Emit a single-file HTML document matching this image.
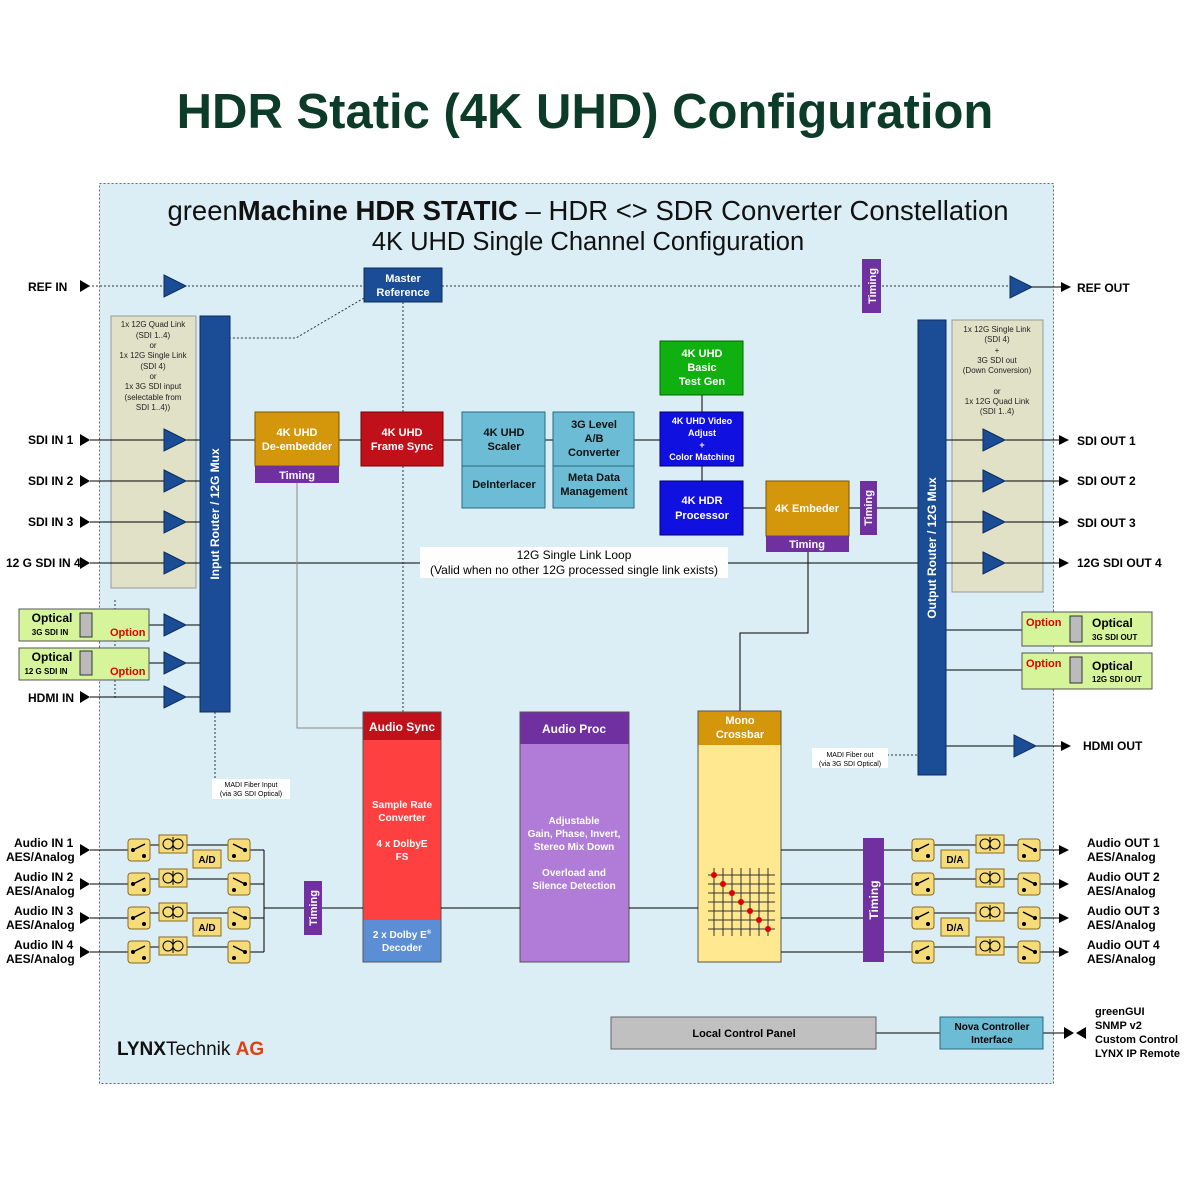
<!DOCTYPE html>
<html><head><meta charset="utf-8"><style>
body{margin:0;background:#fff}
svg{display:block}
text{font-family:"Liberation Sans",Arial,sans-serif}
.b{font-weight:bold}
</style></head><body>
<svg width="1200" height="1200" viewBox="0 0 1200 1200" xmlns="http://www.w3.org/2000/svg">
<defs>
<marker id="ah" markerWidth="10" markerHeight="10" refX="9" refY="5" orient="auto" markerUnits="userSpaceOnUse"><path d="M0,0 L10,5 L0,10z" fill="#000"/></marker>
<g id="tri"><path d="M0,-11 L22,0 L0,11z" fill="#1a4d96" stroke="#0d2c5a" stroke-width="1"/></g>
<g id="sw"><rect x="0" y="-11" width="22" height="22" rx="3" fill="#f5dc78" stroke="#8a6a20"/><circle cx="5" cy="0" r="2" fill="#000"/><circle cx="16" cy="6" r="2" fill="#000"/><line x1="5" y1="0" x2="17" y2="-6" stroke="#000" stroke-width="1.5"/></g>
<g id="swr"><rect x="0" y="-11" width="22" height="22" rx="3" fill="#f5dc78" stroke="#8a6a20"/><circle cx="17" cy="0" r="2" fill="#000"/><circle cx="6" cy="6" r="2" fill="#000"/><line x1="17" y1="0" x2="5" y2="-6" stroke="#000" stroke-width="1.5"/></g>
<g id="tf"><rect x="0" y="-9" width="28" height="18" fill="#f5dc78" stroke="#8a6a20"/><circle cx="9" cy="0" r="5" fill="none" stroke="#000"/><circle cx="19" cy="0" r="5" fill="none" stroke="#000"/><line x1="14" y1="-7" x2="14" y2="7" stroke="#000"/></g>
</defs>

<text x="585" y="128" text-anchor="middle" class="b" font-size="49" fill="#0c3b2a">HDR Static (4K UHD) Configuration</text>

<rect x="99.5" y="183.5" width="954" height="900" fill="#dbeef5" stroke="#666" stroke-dasharray="2,2"/>
<text x="588" y="220" text-anchor="middle" font-size="27.5" fill="#111">green<tspan class="b">Machine HDR STATIC</tspan> – HDR &lt;&gt; SDR Converter Constellation</text>
<text x="588" y="250" text-anchor="middle" font-size="25.5" fill="#111">4K UHD Single Channel Configuration</text>

<!-- REF -->
<g stroke="#333" stroke-dasharray="2,2" fill="none">
<line x1="88" y1="286" x2="364" y2="286"/><line x1="442" y1="286" x2="1010" y2="286"/>
<line x1="403" y1="302" x2="403" y2="712"/>
<polyline points="364,298 296,338 230,338"/>
<line x1="215" y1="712" x2="215" y2="780"/>
<line x1="887" y1="755" x2="918" y2="755"/>
<line x1="115" y1="600" x2="115" y2="700"/>
</g>
<text x="28" y="291" class="b" font-size="12">REF IN</text>
<path d="M80,280 L90,286 L80,292z"/>
<use href="#tri" x="164" y="286"/>
<rect x="364" y="268" width="78" height="34" fill="#1a4d96" stroke="#0d2c5a"/>
<text x="403" y="282" text-anchor="middle" class="b" font-size="11" fill="#fff">Master</text>
<text x="403" y="296" text-anchor="middle" class="b" font-size="11" fill="#fff">Reference</text>
<rect x="862" y="259" width="19" height="54" fill="#7030a0"/>
<text transform="translate(876,286) rotate(-90)" text-anchor="middle" class="b" font-size="11" fill="#fff">Timing</text>
<use href="#tri" x="1010" y="287"/>
<line x1="1032" y1="287" x2="1070" y2="287" stroke="#000" marker-end="url(#ah)"/>
<text x="1077" y="292" class="b" font-size="12">REF OUT</text>

<!-- beige boxes -->
<rect x="111" y="316" width="85" height="272" fill="#e1e1c8" stroke="#999"/>
<g font-size="8" text-anchor="middle" fill="#222">
<text x="153" y="327">1x 12G Quad Link</text><text x="153" y="338">(SDI 1..4)</text><text x="153" y="348">or</text><text x="153" y="358">1x 12G Single Link</text><text x="153" y="369">(SDI 4)</text><text x="153" y="379">or</text><text x="153" y="389">1x 3G SDI input</text><text x="153" y="400">(selectable from</text><text x="153" y="410">SDI 1..4))</text>
</g>
<rect x="952" y="320" width="91" height="272" fill="#e1e1c8" stroke="#999"/>
<g font-size="8" text-anchor="middle" fill="#222">
<text x="997" y="332">1x 12G Single Link</text><text x="997" y="342">(SDI 4)</text><text x="997" y="353">+</text><text x="997" y="363">3G SDI out</text><text x="997" y="373">(Down Conversion)</text><text x="997" y="394">or</text><text x="997" y="404">1x 12G Quad Link</text><text x="997" y="414">(SDI 1..4)</text>
</g>

<!-- input rows -->
<g stroke="#000" fill="none">
<line x1="90" y1="440" x2="200" y2="440"/><line x1="90" y1="481" x2="200" y2="481"/><line x1="90" y1="522" x2="200" y2="522"/><line x1="90" y1="563" x2="200" y2="563"/>
<line x1="92" y1="625" x2="200" y2="625"/><line x1="92" y1="663" x2="200" y2="663"/><line x1="90" y1="697" x2="200" y2="697"/>
<line x1="230" y1="440" x2="255" y2="440"/><line x1="339" y1="440" x2="361" y2="440"/><line x1="443" y1="440" x2="462" y2="440"/><line x1="545" y1="440" x2="553" y2="440"/><line x1="634" y1="440" x2="660" y2="440"/>
<line x1="702" y1="395" x2="702" y2="412"/><line x1="702" y1="466" x2="702" y2="481"/>
<line x1="743" y1="508" x2="766" y2="508"/><line x1="849" y1="508" x2="860" y2="508"/><line x1="877" y1="508" x2="918" y2="508"/>
<line x1="230" y1="563" x2="420" y2="563"/><line x1="728" y1="563" x2="918" y2="563"/>
<polyline points="808,552 808,633 740,633 740,711"/>
<polyline points="297,483 297,728 363,728" stroke="#888"/>
<line x1="946" y1="440" x2="1068" y2="440" marker-end="url(#ah)"/>
<line x1="946" y1="481" x2="1068" y2="481" marker-end="url(#ah)"/>
<line x1="946" y1="522" x2="1068" y2="522" marker-end="url(#ah)"/>
<line x1="946" y1="563" x2="1068" y2="563" marker-end="url(#ah)"/>
<line x1="946" y1="630" x2="1070" y2="630"/><line x1="946" y1="670" x2="1070" y2="670"/>
<line x1="946" y1="746" x2="1070" y2="746" marker-end="url(#ah)"/>
<line x1="876" y1="1033" x2="940" y2="1033"/><line x1="1043" y1="1033" x2="1068" y2="1033"/>
</g>
<g class="b" font-size="12">
<text x="28" y="444">SDI IN 1</text><text x="28" y="485">SDI IN 2</text><text x="28" y="526">SDI IN 3</text><text x="6" y="567">12 G SDI IN 4</text><text x="28" y="702">HDMI IN</text>
<text x="1077" y="445">SDI OUT 1</text><text x="1077" y="485">SDI OUT 2</text><text x="1077" y="527">SDI OUT 3</text><text x="1077" y="567">12G SDI OUT 4</text><text x="1083" y="750">HDMI OUT</text>
</g>
<path d="M80,434 L90,440 L80,446zM80,475 L90,481 L80,487zM80,516 L90,522 L80,528zM80,557 L90,563 L80,569zM80,691 L90,697 L80,703z"/>
<use href="#tri" x="164" y="440"/><use href="#tri" x="164" y="481"/><use href="#tri" x="164" y="522"/><use href="#tri" x="164" y="563"/>
<use href="#tri" x="164" y="625"/><use href="#tri" x="164" y="663"/><use href="#tri" x="164" y="697"/>
<use href="#tri" x="983" y="440"/><use href="#tri" x="983" y="481"/><use href="#tri" x="983" y="522"/><use href="#tri" x="983" y="563"/>
<use href="#tri" x="1014" y="746"/>

<!-- optical in -->
<rect x="19" y="609" width="130" height="32" fill="#d6f59a" stroke="#555"/>
<rect x="80" y="613" width="12" height="24" fill="#bbb" stroke="#333"/>
<text x="52" y="622" text-anchor="middle" class="b" font-size="12">Optical</text>
<text x="50" y="635" text-anchor="middle" class="b" font-size="8">3G SDI IN</text>
<text x="110" y="636" class="b" font-size="11" fill="#e00000">Option</text>
<rect x="19" y="648" width="130" height="32" fill="#d6f59a" stroke="#555"/>
<rect x="80" y="651" width="12" height="24" fill="#bbb" stroke="#333"/>
<text x="52" y="661" text-anchor="middle" class="b" font-size="12">Optical</text>
<text x="46" y="674" text-anchor="middle" class="b" font-size="8">12 G SDI IN</text>
<text x="110" y="675" class="b" font-size="11" fill="#e00000">Option</text>
<!-- optical out -->
<rect x="1022" y="612" width="130" height="34" fill="#d6f59a" stroke="#555"/>
<rect x="1070" y="616" width="12" height="26" fill="#bbb" stroke="#333"/>
<text x="1026" y="626" class="b" font-size="11" fill="#e00000">Option</text>
<text x="1092" y="627" class="b" font-size="12">Optical</text>
<text x="1092" y="640" class="b" font-size="8">3G SDI OUT</text>
<rect x="1022" y="653" width="130" height="36" fill="#d6f59a" stroke="#555"/>
<rect x="1070" y="657" width="12" height="26" fill="#bbb" stroke="#333"/>
<text x="1026" y="667" class="b" font-size="11" fill="#e00000">Option</text>
<text x="1092" y="670" class="b" font-size="12">Optical</text>
<text x="1092" y="682" class="b" font-size="8">12G SDI OUT</text>

<!-- routers -->
<rect x="200" y="316" width="30" height="396" fill="#1a4d96" stroke="#0d2c5a"/>
<text transform="translate(219,514) rotate(-90)" text-anchor="middle" class="b" font-size="12" fill="#fff">Input Router / 12G Mux</text>
<rect x="918" y="320" width="28" height="455" fill="#1a4d96" stroke="#0d2c5a"/>
<text transform="translate(936,548) rotate(-90)" text-anchor="middle" class="b" font-size="12" fill="#fff">Output Router / 12G Mux</text>

<!-- processing blocks -->
<rect x="255" y="412" width="84" height="54" fill="#d4960a" stroke="#7a5500"/>
<text x="297" y="436" text-anchor="middle" class="b" font-size="11" fill="#fff">4K UHD</text>
<text x="297" y="450" text-anchor="middle" class="b" font-size="11" fill="#fff">De-embedder</text>
<rect x="255" y="466" width="84" height="17" fill="#7030a0"/>
<text x="297" y="479" text-anchor="middle" class="b" font-size="11" fill="#fff">Timing</text>
<rect x="361" y="412" width="82" height="54" fill="#c0101a" stroke="#700"/>
<text x="402" y="436" text-anchor="middle" class="b" font-size="11" fill="#fff">4K UHD</text>
<text x="402" y="450" text-anchor="middle" class="b" font-size="11" fill="#fff">Frame Sync</text>
<rect x="462" y="412" width="83" height="96" fill="#6bbcd4" stroke="#2a6a80"/>
<line x1="462" y1="466" x2="545" y2="466" stroke="#2a6a80"/>
<text x="504" y="436" text-anchor="middle" class="b" font-size="11" fill="#111">4K UHD</text>
<text x="504" y="450" text-anchor="middle" class="b" font-size="11" fill="#111">Scaler</text>
<text x="504" y="488" text-anchor="middle" class="b" font-size="11" fill="#111">DeInterlacer</text>
<rect x="553" y="412" width="81" height="96" fill="#6bbcd4" stroke="#2a6a80"/>
<line x1="553" y1="466" x2="634" y2="466" stroke="#2a6a80"/>
<text x="594" y="428" text-anchor="middle" class="b" font-size="11" fill="#111">3G Level</text>
<text x="594" y="442" text-anchor="middle" class="b" font-size="11" fill="#111">A/B</text>
<text x="594" y="456" text-anchor="middle" class="b" font-size="11" fill="#111">Converter</text>
<text x="594" y="481" text-anchor="middle" class="b" font-size="11" fill="#111">Meta Data</text>
<text x="594" y="495" text-anchor="middle" class="b" font-size="11" fill="#111">Management</text>
<rect x="660" y="341" width="83" height="54" fill="#10b010" stroke="#060"/>
<text x="702" y="357" text-anchor="middle" class="b" font-size="11" fill="#fff">4K UHD</text>
<text x="702" y="371" text-anchor="middle" class="b" font-size="11" fill="#fff">Basic</text>
<text x="702" y="385" text-anchor="middle" class="b" font-size="11" fill="#fff">Test Gen</text>
<rect x="660" y="412" width="83" height="54" fill="#1010e0" stroke="#006"/>
<text x="702" y="424" text-anchor="middle" class="b" font-size="9" fill="#fff">4K UHD Video</text>
<text x="702" y="436" text-anchor="middle" class="b" font-size="9" fill="#fff">Adjust</text>
<text x="702" y="448" text-anchor="middle" class="b" font-size="9" fill="#fff">+</text>
<text x="702" y="460" text-anchor="middle" class="b" font-size="9" fill="#fff">Color Matching</text>
<rect x="660" y="481" width="83" height="54" fill="#1010e0" stroke="#006"/>
<text x="702" y="504" text-anchor="middle" class="b" font-size="11" fill="#fff">4K HDR</text>
<text x="702" y="519" text-anchor="middle" class="b" font-size="11" fill="#fff">Processor</text>
<rect x="766" y="481" width="83" height="55" fill="#d4960a" stroke="#7a5500"/>
<text x="807" y="512" text-anchor="middle" class="b" font-size="11" fill="#fff">4K Embeder</text>
<rect x="766" y="536" width="83" height="16" fill="#7030a0"/>
<text x="807" y="548" text-anchor="middle" class="b" font-size="11" fill="#fff">Timing</text>
<rect x="860" y="481" width="17" height="54" fill="#7030a0"/>
<text transform="translate(872,508) rotate(-90)" text-anchor="middle" class="b" font-size="11" fill="#fff">Timing</text>

<rect x="420" y="547" width="308" height="31" fill="#fff"/>
<text x="574" y="559" text-anchor="middle" font-size="12">12G Single Link Loop</text>
<text x="574" y="574" text-anchor="middle" font-size="12">(Valid when no other 12G processed single link exists)</text>

<!-- MADI labels -->
<rect x="212" y="779" width="78" height="20" fill="#fff"/>
<text x="251" y="787" text-anchor="middle" font-size="7">MADI Fiber Input</text>
<text x="251" y="796" text-anchor="middle" font-size="7">(via 3G SDI Optical)</text>
<rect x="812" y="748" width="76" height="20" fill="#fff"/>
<text x="850" y="757" text-anchor="middle" font-size="7">MADI Fiber out</text>
<text x="850" y="766" text-anchor="middle" font-size="7">(via 3G SDI Optical)</text>

<!-- audio blocks -->
<rect x="363" y="712" width="78" height="28" fill="#c0101a"/>
<text x="402" y="731" text-anchor="middle" class="b" font-size="12" fill="#fff">Audio Sync</text>
<rect x="363" y="740" width="78" height="180" fill="#ff4040"/>
<text x="402" y="808" text-anchor="middle" class="b" font-size="10" fill="#fff">Sample Rate</text>
<text x="402" y="821" text-anchor="middle" class="b" font-size="10" fill="#fff">Converter</text>
<text x="402" y="847" text-anchor="middle" class="b" font-size="10" fill="#fff">4 x DolbyE</text>
<text x="402" y="860" text-anchor="middle" class="b" font-size="10" fill="#fff">FS</text>
<rect x="363" y="920" width="78" height="42" fill="#5b8ed4"/>
<text x="402" y="938" text-anchor="middle" class="b" font-size="10" fill="#fff">2 x Dolby E<tspan font-size="6" dy="-4">®</tspan></text>
<text x="402" y="951" text-anchor="middle" class="b" font-size="10" fill="#fff">Decoder</text>
<rect x="363" y="712" width="78" height="250" fill="none" stroke="#555"/>

<rect x="520" y="712" width="109" height="32" fill="#7030a0"/>
<text x="574" y="733" text-anchor="middle" class="b" font-size="12" fill="#fff">Audio Proc</text>
<rect x="520" y="744" width="109" height="218" fill="#b07cd8"/>
<rect x="520" y="712" width="109" height="250" fill="none" stroke="#555"/>
<g text-anchor="middle" class="b" font-size="10" fill="#fff">
<text x="574" y="824">Adjustable</text><text x="574" y="837">Gain, Phase, Invert,</text><text x="574" y="850">Stereo Mix Down</text><text x="574" y="876">Overload and</text><text x="574" y="889">Silence Detection</text></g>

<rect x="698" y="711" width="83" height="34" fill="#d4960a"/>
<text x="740" y="724" text-anchor="middle" class="b" font-size="11" fill="#fff">Mono</text>
<text x="740" y="738" text-anchor="middle" class="b" font-size="11" fill="#fff">Crossbar</text>
<rect x="698" y="745" width="83" height="217" fill="#ffe890"/>
<rect x="698" y="711" width="83" height="251" fill="none" stroke="#555"/>
<g stroke="#333">
<line x1="708" y1="875" x2="775" y2="875"/><line x1="708" y1="884" x2="775" y2="884"/><line x1="708" y1="893" x2="775" y2="893"/><line x1="708" y1="902" x2="775" y2="902"/><line x1="708" y1="911" x2="775" y2="911"/><line x1="708" y1="920" x2="775" y2="920"/><line x1="708" y1="929" x2="775" y2="929"/>
<line x1="714" y1="868" x2="714" y2="936"/><line x1="723" y1="868" x2="723" y2="936"/><line x1="732" y1="868" x2="732" y2="936"/><line x1="741" y1="868" x2="741" y2="936"/><line x1="750" y1="868" x2="750" y2="936"/><line x1="759" y1="868" x2="759" y2="936"/><line x1="768" y1="868" x2="768" y2="936"/>
</g>
<g fill="#d00"><circle cx="714" cy="875" r="3"/><circle cx="723" cy="884" r="3"/><circle cx="732" cy="893" r="3"/><circle cx="741" cy="902" r="3"/><circle cx="750" cy="911" r="3"/><circle cx="759" cy="920" r="3"/><circle cx="768" cy="929" r="3"/></g>

<!-- audio lines -->
<g stroke="#000" fill="none">
<line x1="322" y1="908" x2="363" y2="908"/><line x1="441" y1="908" x2="520" y2="908"/><line x1="629" y1="908" x2="698" y2="908"/>
<line x1="264" y1="908" x2="304" y2="908"/>
<line x1="781" y1="850" x2="863" y2="850"/><line x1="781" y1="884" x2="863" y2="884"/><line x1="781" y1="918" x2="863" y2="918"/><line x1="781" y1="952" x2="863" y2="952"/>
<line x1="264" y1="850" x2="264" y2="952"/>
<line x1="90" y1="850" x2="128" y2="850"/><line x1="90" y1="884" x2="128" y2="884"/><line x1="90" y1="918" x2="128" y2="918"/><line x1="90" y1="952" x2="128" y2="952"/>
<line x1="150" y1="845" x2="228" y2="845"/><line x1="150" y1="879" x2="228" y2="879"/><line x1="150" y1="913" x2="228" y2="913"/><line x1="150" y1="947" x2="228" y2="947"/>
<line x1="250" y1="850" x2="264" y2="850"/><line x1="250" y1="884" x2="264" y2="884"/><line x1="250" y1="918" x2="264" y2="918"/><line x1="250" y1="952" x2="264" y2="952"/>
<line x1="884" y1="850" x2="912" y2="850"/><line x1="884" y1="884" x2="912" y2="884"/><line x1="884" y1="918" x2="912" y2="918"/><line x1="884" y1="952" x2="912" y2="952"/>
<line x1="934" y1="845" x2="1018" y2="845"/><line x1="934" y1="879" x2="1018" y2="879"/><line x1="934" y1="913" x2="1018" y2="913"/><line x1="934" y1="947" x2="1018" y2="947"/>
<line x1="1040" y1="850" x2="1068" y2="850" marker-end="url(#ah)"/><line x1="1040" y1="884" x2="1068" y2="884" marker-end="url(#ah)"/><line x1="1040" y1="918" x2="1068" y2="918" marker-end="url(#ah)"/><line x1="1040" y1="952" x2="1068" y2="952" marker-end="url(#ah)"/>
</g>
<path d="M80,844 L90,850 L80,856zM80,878 L90,884 L80,890zM80,912 L90,918 L80,924zM80,946 L90,952 L80,958z"/>
<use href="#sw" x="128" y="850"/><use href="#sw" x="128" y="884"/><use href="#sw" x="128" y="918"/><use href="#sw" x="128" y="952"/>
<use href="#swr" x="228" y="850"/><use href="#swr" x="228" y="884"/><use href="#swr" x="228" y="918"/><use href="#swr" x="228" y="952"/>
<use href="#tf" x="159" y="844"/><use href="#tf" x="159" y="878"/><use href="#tf" x="159" y="912"/><use href="#tf" x="159" y="946"/>
<rect x="193" y="850" width="28" height="18" fill="#f5dc78" stroke="#8a6a20"/><text x="207" y="863" text-anchor="middle" class="b" font-size="10">A/D</text>
<rect x="193" y="918" width="28" height="18" fill="#f5dc78" stroke="#8a6a20"/><text x="207" y="931" text-anchor="middle" class="b" font-size="10">A/D</text>
<use href="#sw" x="912" y="850"/><use href="#sw" x="912" y="884"/><use href="#sw" x="912" y="918"/><use href="#sw" x="912" y="952"/>
<use href="#swr" x="1018" y="850"/><use href="#swr" x="1018" y="884"/><use href="#swr" x="1018" y="918"/><use href="#swr" x="1018" y="952"/>
<use href="#tf" x="976" y="844"/><use href="#tf" x="976" y="878"/><use href="#tf" x="976" y="912"/><use href="#tf" x="976" y="946"/>
<rect x="941" y="850" width="28" height="18" fill="#f5dc78" stroke="#8a6a20"/><text x="955" y="863" text-anchor="middle" class="b" font-size="10">D/A</text>
<rect x="941" y="918" width="28" height="18" fill="#f5dc78" stroke="#8a6a20"/><text x="955" y="931" text-anchor="middle" class="b" font-size="10">D/A</text>
<rect x="304" y="881" width="18" height="54" fill="#7030a0"/>
<text transform="translate(317,908) rotate(-90)" text-anchor="middle" class="b" font-size="11" fill="#fff">Timing</text>
<rect x="863" y="838" width="21" height="124" fill="#7030a0"/>
<text transform="translate(878,900) rotate(-90)" text-anchor="middle" class="b" font-size="12" fill="#fff">Timing</text>
<g class="b" font-size="12">
<text x="14" y="847">Audio IN 1</text><text x="6" y="861">AES/Analog</text>
<text x="14" y="881">Audio IN 2</text><text x="6" y="895">AES/Analog</text>
<text x="14" y="915">Audio IN 3</text><text x="6" y="929">AES/Analog</text>
<text x="14" y="949">Audio IN 4</text><text x="6" y="963">AES/Analog</text>
<text x="1087" y="847">Audio OUT 1</text><text x="1087" y="861">AES/Analog</text>
<text x="1087" y="881">Audio OUT 2</text><text x="1087" y="895">AES/Analog</text>
<text x="1087" y="915">Audio OUT 3</text><text x="1087" y="929">AES/Analog</text>
<text x="1087" y="949">Audio OUT 4</text><text x="1087" y="963">AES/Analog</text>
</g>

<!-- control -->
<rect x="611" y="1017" width="265" height="32" fill="#c0c0c0" stroke="#666"/>
<text x="744" y="1037" text-anchor="middle" class="b" font-size="11">Local Control Panel</text>
<rect x="940" y="1017" width="103" height="32" fill="#6bbcd4" stroke="#2a6a80"/>
<text x="992" y="1030" text-anchor="middle" class="b" font-size="10">Nova Controller</text>
<text x="992" y="1043" text-anchor="middle" class="b" font-size="10">Interface</text>
<path d="M1064,1027 L1074,1033 L1064,1039zM1086,1027 L1076,1033 L1086,1039z"/>
<g class="b" font-size="11"><text x="1095" y="1015">greenGUI</text><text x="1095" y="1029">SNMP v2</text><text x="1095" y="1043">Custom Control</text><text x="1095" y="1057">LYNX IP Remote</text></g>
<text x="117" y="1055" font-size="19" fill="#111"><tspan class="b">LYNX</tspan>Technik <tspan class="b" fill="#e04010">AG</tspan></text>
</svg>
</body></html>
